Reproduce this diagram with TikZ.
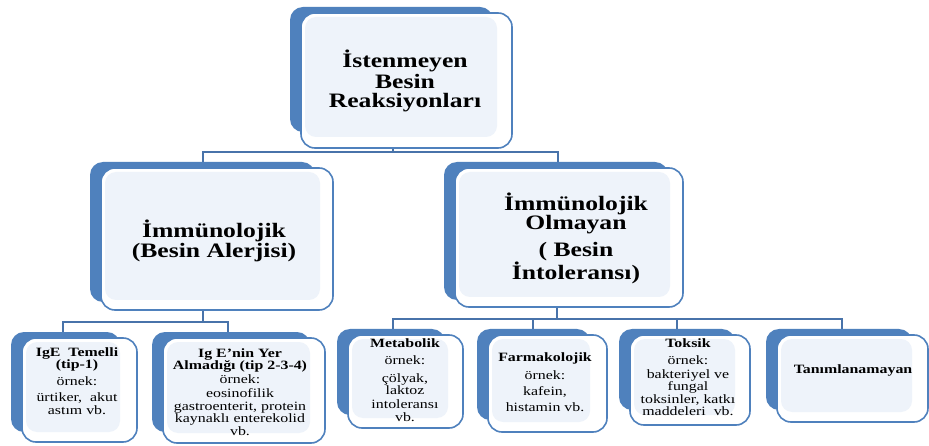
\documentclass[tikz,border=0pt]{standalone}
\usepackage{fontspec}
\setmainfont{Liberation Serif}[FakeStretch=1.25]
\usetikzlibrary{backgrounds}
\definecolor{blueC}{RGB}{79,129,189}
\definecolor{lightC}{RGB}{238,243,250}
\definecolor{lineC}{RGB}{72,115,170}
\tikzset{
  backsty/.style={fill=blueC, rounded corners=13pt},
  frontsty/.style={draw=blueC, fill=white, line width=1.6pt, rounded corners=14pt,
    inner sep=0pt, outer sep=0pt, anchor=north west},
  lightsty/.style={fill=lightC, rounded corners=11pt},
  conn/.style={draw=lineC, line width=2pt},
  ttl/.style={font=\bfseries\fontsize{20.5}{18.5}\selectfont, align=center, inner sep=0pt},
  sml/.style={font=\fontsize{12.7}{12.5}\selectfont, align=center, inner sep=0pt},
}
% #1 name, #2-#5 front box x1 y1 x2 y2, #6 #7 back right/bottom, #8 #9 light right/bottom
\newcommand\mkbox[9]{%
  \fill[backsty] (#2-11,#3-6) rectangle (#6,#7);
  \node[frontsty, minimum width={#4-#2}, minimum height={#5-#3}] (#1) at (#2,#3) {};
  \fill[lightsty] (#2+4,#3+4) rectangle (#8,#9);
}
\begin{document}
\begin{tikzpicture}[x=1pt,y=-1pt]
\useasboundingbox (0,0) rectangle (929,446);
% boxes
\mkbox{top}{301}{13}{512}{148}{493}{132}{497}{137}
\mkbox{ml}{101}{168}{333}{310}{315}{302}{320}{300}
\mkbox{mr}{455}{168}{683}{307}{668}{300}{670}{297}
\mkbox{b1}{22}{338}{137}{442}{120}{432}{120}{432}
\mkbox{b2}{163}{338}{325}{443}{310}{432}{310}{433}
\mkbox{b3}{348}{335}{463}{428}{445}{415}{448}{418}
\mkbox{b4}{488}{335}{607}{432}{590}{420}{590}{422}
\mkbox{b5}{630}{335}{750}{425}{735}{410}{735}{415}
\mkbox{b6}{777}{335}{928}{422}{912}{410}{912}{412}
% texts
\node[ttl] (top-t) at (405,81) {İstenmeyen\\[1pt]Besin\\[1pt]Reaksiyonları};
\node[ttl] (ml-t) at (214,241) {İmmünolojik\\(Besin Alerjisi)};
\node[ttl] (mr-t) at (576,238) {İmmünolojik\\Olmayan\\[7pt]( Besin\\İntoleransı)};
\node[sml] (b1-t) at (77,381) {\textbf{IgE\ \ Temelli}\\\textbf{(tip-1)}\\[4pt]örnek:\\[4pt]ürtiker,\ \ akut\\astım vb.};
\node[sml] (b2-t) at (240,392) {\textbf{Ig E’nin Yer}\\\textbf{Almadığı (tip 2-3-4)}\\[1.5pt]örnek:\\[1.5pt]eosinofilik\\gastroenterit, protein\\kaynaklı enterekolid\\vb.};
\node[sml] (b3-t) at (405,380) {\textbf{Metabolik}\\[5pt]örnek:\\[5pt]çölyak,\\laktoz\\[1.5pt]intoleransı\\vb.};
\node[sml] (b4-t) at (545,382) {\textbf{Farmakolojik}\\[5pt]örnek:\\[4pt]kafein,\\[3pt]histamin vb.};
\node[sml] (b5-t) at (688,377) {\textbf{Toksik}\\[5pt]örnek:\\[1pt]bakteriyel ve\\fungal\\toksinler, katkı\\maddeleri\ \ vb.};
\node[sml] (b6-t) at (853,370) {\textbf{Tanımlanamayan}};
% connectors
\coordinate (j0) at (393,152);
\coordinate (jL) at (203,152);
\coordinate (jR) at (558,152);
\coordinate (k0) at (203,322);
\coordinate (k1) at (63,322);
\coordinate (k2) at (228,322);
\coordinate (m0) at (557,319);
\coordinate (m1) at (393,319);
\coordinate (m2) at (533,319);
\coordinate (m3) at (677,319);
\coordinate (m4) at (842,319);
\begin{scope}[on background layer]
  \fill[white] (0,0) rectangle (929,446);
  \draw[conn] (j0 |- top.south) -- (j0);
  \draw[conn] (jL |- ml.north) -- (jL) -- (jR) -- (jR |- mr.north);
  \draw[conn] (k0 |- ml.south) -- (k0);
  \draw[conn] (k1 |- b1.north) -- (k1) -- (k2) -- (k2 |- b2.north);
  \draw[conn] (m0 |- mr.south) -- (m0);
  \draw[conn] (m1 |- b3.north) -- (m1) -- (m4) -- (m4 |- b6.north);
  \draw[conn] (m2) -- (m2 |- b4.north);
  \draw[conn] (m3) -- (m3 |- b5.north);
\end{scope}
\end{tikzpicture}
\end{document}
